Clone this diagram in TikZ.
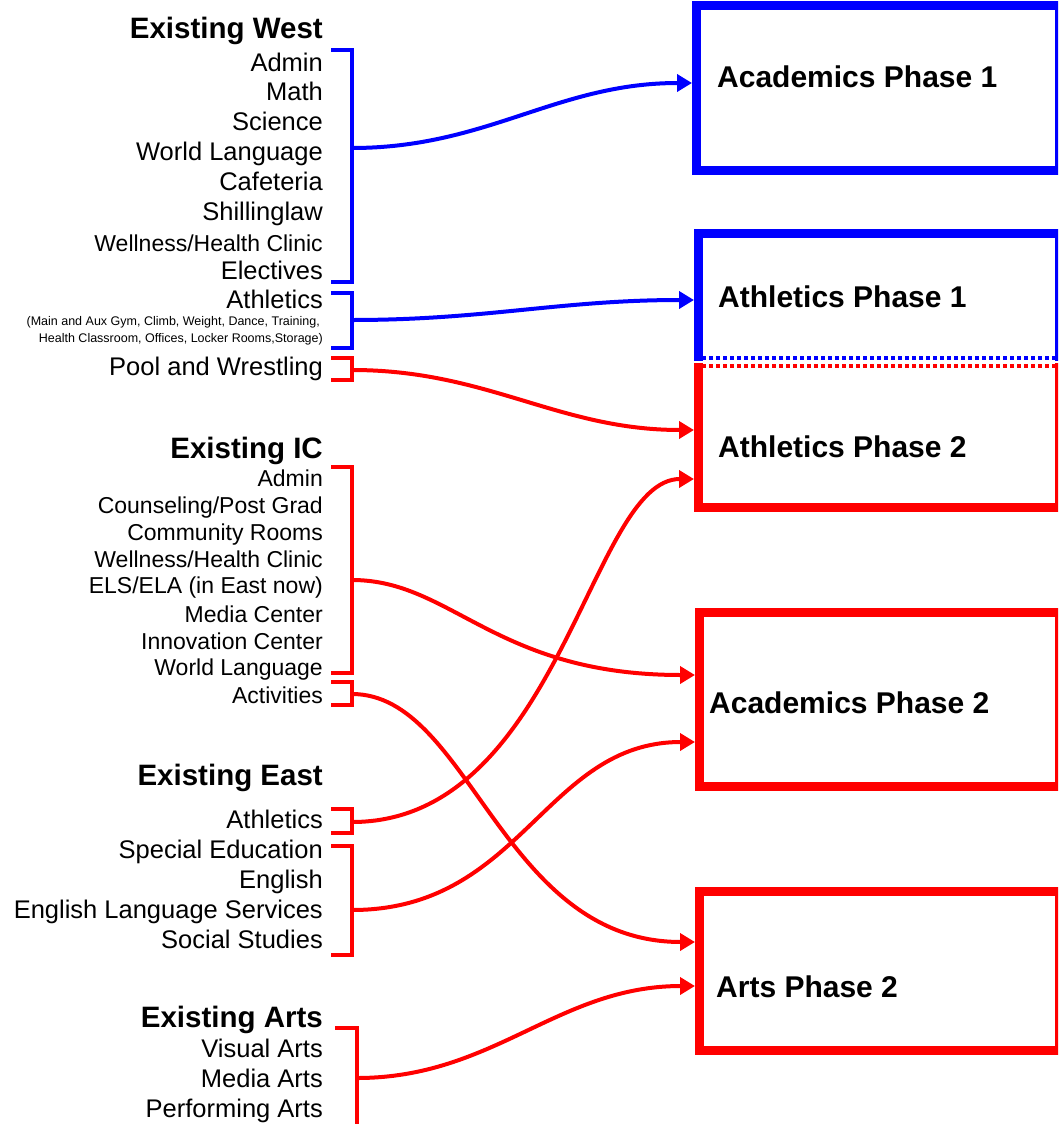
\documentclass[tikz,border=0pt]{standalone}
\usepackage{fontspec}
\setmainfont{Liberation Sans}
\usetikzlibrary{arrows.meta}

\begin{document}
\begin{tikzpicture}[x=1pt,y=-1pt,
    itemtxt/.style={anchor=base east,inner sep=0pt,font=\fontsize{25.5}{30}\selectfont},
    smalltxt/.style={itemtxt,font=\fontsize{23}{27}\selectfont},
    tinytxt/.style={itemtxt,font=\fontsize{12.5}{15}\selectfont},
    headtxt/.style={itemtxt,font=\fontsize{29.5}{35}\selectfont\bfseries},
    phasetxt/.style={anchor=base west,inner sep=0pt,font=\fontsize{30}{36}\selectfont\bfseries},
    brk/.style={line width=4pt},
    linkarrow/.style={line width=4pt,-{Triangle[length=15pt,width=17pt]}},
    boxline/.style={line width=9pt},
    splitline/.style={line width=4pt,dash pattern=on 4pt off 3pt}]
    \useasboundingbox (0,0) rectangle (1058,1124);
    \clip (0,0) rectangle (1058,1124);
    % existing buildings
    \node[headtxt] (westhead) at (323,39) {Existing West};
    \foreach \y/\t in {71/Admin,100/Math,130/Science,160/World Language,190/Cafeteria,220/Shillinglaw,279/Electives}
        \node[itemtxt] (west\y) at (323,\y) {\t};
    \node[smalltxt] (west251) at (323,251) {Wellness/Health Clinic};
    \node[itemtxt] (westath) at (323,308) {Athletics};
    \node[tinytxt] (westathA) at (320,325) {(Main and Aux Gym, Climb, Weight, Dance, Training,};
    \node[tinytxt] (westathB) at (323,342) {Health Classroom, Offices, Locker Rooms,Storage)};
    \node[itemtxt] (pool) at (323,375) {Pool and Wrestling};

    \node[headtxt] (ichead) at (323,458) {Existing IC};
    \foreach \y/\t in {486/Admin,513/{Counseling/Post Grad},540/Community Rooms,567/{Wellness/Health Clinic},593/{ELS/ELA (in East now)},622/Media Center,649/Innovation Center,675/World Language,703/Activities}
        \node[smalltxt] (ic\y) at (323,\y) {\t};

    \node[headtxt] (easthead) at (323,785) {Existing East};
    \foreach \y/\t in {828/Athletics,858/Special Education,888/English,918/English Language Services,948/Social Studies}
        \node[itemtxt] (east\y) at (323,\y) {\t};

    \node[headtxt] (artshead) at (323,1027) {Existing Arts};
    \foreach \y/\t in {1057/Visual Arts,1087/Media Arts,1117/Performing Arts}
        \node[itemtxt] (arts\y) at (323,\y) {\t};

    % brackets
    \draw[blue,brk] (331,50) -| (352,282) -- (331,282);
    \draw[blue,brk] (331,293) -| (352,348) -- (331,348);
    \draw[red,brk] (331,358) -| (352,380) -- (331,380);
    \draw[red,brk] (331,467) -| (352,673) -- (331,673);
    \draw[red,brk] (331,682) -| (352,705) -- (331,705);
    \draw[red,brk] (331,809) -| (352,833) -- (331,833);
    \draw[red,brk] (331,846) -| (352,955) -- (331,955);
    \draw[red,brk] (335,1028) -| (357,1130);
    \coordinate (westout) at (352,148);
    \coordinate (westathout) at (352,320);
    \coordinate (poolout) at (352,370);
    \coordinate (icout) at (352,580);
    \coordinate (actout) at (352,694);
    \coordinate (eathout) at (352,822);
    \coordinate (eastout) at (352,910);
    \coordinate (artsout) at (357,1078);

    % new phases
    \draw[blue,boxline] (696.5,5.5) rectangle (1059,170);
    \draw[blue,boxline] (698,361) -- (698,233) -- (1059,233) -- (1059,361);
    \draw[blue,splitline] (702,358) -- (1058,358);
    \draw[red,splitline] (702,366) -- (1058,366);
    \draw[red,boxline] (698,363) -- (698,507) -- (1059,507) -- (1059,363);
    \draw[red,boxline] (699,612.5) rectangle (1059,786.5);
    \draw[red,boxline] (699,891.5) rectangle (1059,1050);
    \node[phasetxt] (acadA) at (717,87) {Academics Phase 1};
    \node[phasetxt] (athA) at (718,307) {Athletics Phase 1};
    \node[phasetxt] (athB) at (718,457) {Athletics Phase 2};
    \node[phasetxt] (acadB) at (709,713) {Academics Phase 2};
    \node[phasetxt] (artsB) at (716,997) {Arts Phase 2};
    \coordinate (acadAin) at (692,83);
    \coordinate (athAin) at (694,300);
    \coordinate (athBin1) at (694,430);
    \coordinate (athBin2) at (694,479);
    \coordinate (acadBin1) at (695,675);
    \coordinate (acadBin2) at (695,742);
    \coordinate (artsBin1) at (695,942);
    \coordinate (artsBin2) at (695,986);

    % moves
    \draw[blue,linkarrow] (westout) to[out=0,in=180] (acadAin);
    \draw[blue,linkarrow] (westathout) to[out=0,in=180] (athAin);
    \draw[red,linkarrow] (poolout) to[out=0,in=180] (athBin1);
    \draw[red,linkarrow] (icout) .. controls +(100,0) and +(-200,0) .. (acadBin1);
    \draw[red,linkarrow] (actout) .. controls +(118,0) and +(-194,0) .. (artsBin1);
    \draw[red,linkarrow] (eathout) .. controls +(208,0) and +(-104,0) .. (athBin2);
    \draw[red,linkarrow] (eastout) .. controls +(170,0) and +(-150,0) .. (acadBin2);
    \draw[red,linkarrow] (artsout) to[out=0,in=180] (artsBin2);
\end{tikzpicture}
\end{document}
